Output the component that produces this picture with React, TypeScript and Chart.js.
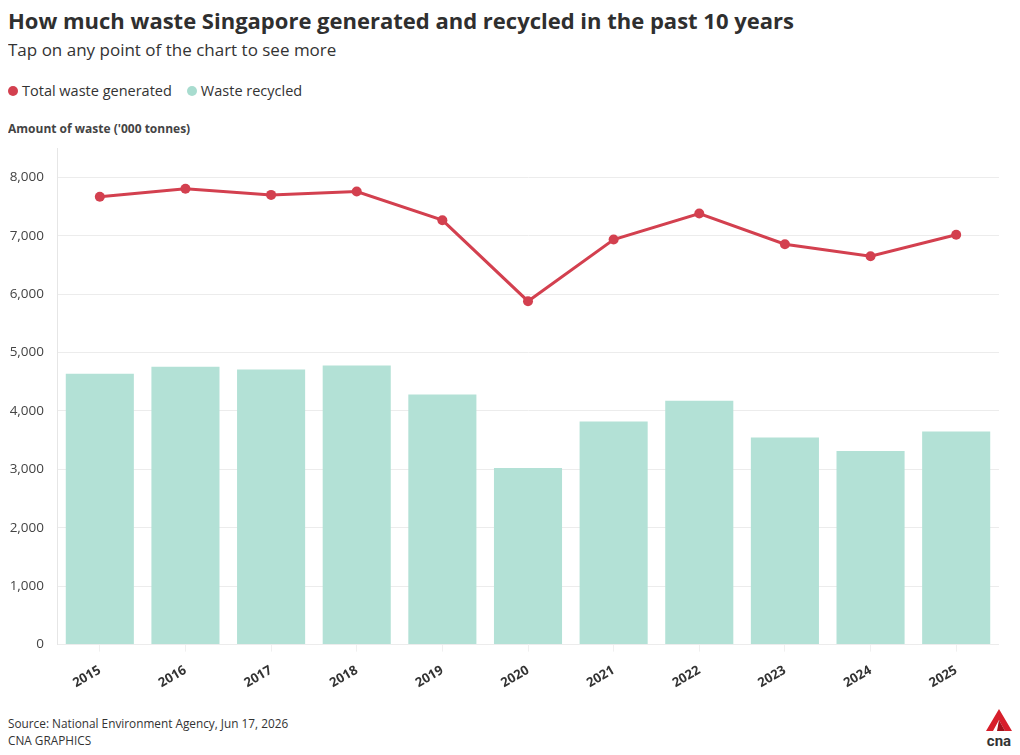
import React, { useEffect, useRef } from "react";
import { Chart, registerables } from "chart.js";

Chart.register(...registerables);

const years = ["2015", "2016", "2017", "2018", "2019", "2020", "2021", "2022", "2023", "2024", "2025"];
const totalWaste = [7667, 7804, 7699, 7757, 7266, 5879, 6935, 7380, 6855, 6649, 7016];
const recycled = [4635, 4755, 4709, 4777, 4281, 3025, 3818, 4173, 3545, 3316, 3647];
const yTicks = [0, 1000, 2000, 3000, 4000, 5000, 6000, 7000, 8000];
const yMax = 8500;

const RED = "#d3404f";
const MINT = "#b3e1d6";
const FONT = "'Open Sans', Roboto, sans-serif";

function WasteChart() {
  const ref = useRef<HTMLCanvasElement | null>(null);
  useEffect(() => {
    if (!ref.current) return;
    const chart = new Chart(ref.current, {
      type: "bar",
      data: {
        labels: years,
        datasets: [
          {
            type: "line",
            label: "Total waste generated",
            data: totalWaste,
            borderColor: RED,
            backgroundColor: RED,
            pointBackgroundColor: RED,
            pointBorderColor: RED,
            borderWidth: 3,
            pointRadius: 5,
            pointBorderWidth: 0,
            tension: 0,
          } as any,
          {
            type: "bar",
            label: "Waste recycled",
            data: recycled,
            backgroundColor: MINT,
            borderWidth: 0,
            categoryPercentage: 1,
            barPercentage: 0.795,
          } as any,
        ],
      },
      options: {
        animation: false,
        responsive: false,
        maintainAspectRatio: false,
        layout: { padding: { top: 7, right: 5, left: 0, bottom: 0 } },
        plugins: { legend: { display: false }, tooltip: { enabled: false } },
        scales: {
          x: {
            offset: true,
            grid: { display: true, drawOnChartArea: false, drawTicks: true, tickLength: 7, color: "#f0f0f0", offset: false },
            border: { display: false },
            ticks: {
              maxRotation: 30,
              minRotation: 30,
              padding: 11,
              color: "#333",
              font: { family: FONT, size: 13, weight: "bold" },
            },
          },
          y: {
            min: 0,
            max: yMax,
            afterBuildTicks: (axis: any) => {
              axis.ticks = yTicks.map((v) => ({ value: v }));
            },
            afterFit: (axis: any) => {
              axis.width = 49;
            },
            ticks: {
              padding: 13,
              color: "#444",
              font: { family: FONT, size: 13.5 },
              callback: (v: any) => Number(v).toLocaleString("en-US"),
            },
            grid: {
              drawTicks: false,
              color: "#ececec",
            },
            border: { display: true, color: "#e6e6e6" },
          },
        },
      },
    });
    return () => chart.destroy();
  }, []);
  return <canvas ref={ref} width={996} height={575} style={{ position: "absolute", left: 0, top: 119, width: 996, height: 575 }} />;
}

function Logo() {
  return (
    <svg width="32" height="40" viewBox="0 0 32 40" style={{ position: "absolute", left: 975, top: 700 }}>
      <path d="M16 1 L29 23 L22 23 L16 12 L10 23 L3 23 Z" fill="#d71f2b" />
      <path d="M16 12 L22 23 L14 23 Z" fill="#a3121c" />
      <text x="16" y="38" textAnchor="middle" fontFamily="Roboto, sans-serif" fontSize="15" fontWeight="bold" fill="#333">cna</text>
    </svg>
  );
}

export default function App() {
  const text: React.CSSProperties = { position: "absolute", left: 0, whiteSpace: "nowrap", fontFamily: FONT, color: "#333" };
  return (
    <div style={{ position: "relative", width: 1004, height: 739, fontFamily: FONT }}>
      <div style={{ ...text, top: 0, fontSize: 22, lineHeight: "24px", fontWeight: 700, color: "#2f2f2f" }}>
        How much waste Singapore generated and recycled in the past 10 years
      </div>
      <div style={{ ...text, top: 32, fontSize: 17, lineHeight: "20px", color: "#333" }}>
        Tap on any point of the chart to see more
      </div>
      <div style={{ ...text, top: 74, fontSize: 14.5, lineHeight: "18px", display: "flex", alignItems: "center" }}>
        <span style={{ display: "inline-block", width: 10, height: 10, borderRadius: 5, background: RED, marginRight: 4 }} />
        <span>Total waste generated</span>
        <span style={{ display: "inline-block", width: 10, height: 10, borderRadius: 5, background: "#a8dccf", marginLeft: 15, marginRight: 4 }} />
        <span>Waste recycled</span>
      </div>
      <div style={{ ...text, top: 113, fontSize: 12, lineHeight: "16px", fontWeight: 700, color: "#444" }}>
        Amount of waste ('000 tonnes)
      </div>
      <WasteChart />
      <div style={{ ...text, top: 707, fontSize: 11.8, lineHeight: "16px" }}>
        Source: National Environment Agency, Jun 17, 2026
      </div>
      <div style={{ ...text, top: 724, fontSize: 11.8, lineHeight: "16px" }}>CNA GRAPHICS</div>
      <Logo />
    </div>
  );
}
